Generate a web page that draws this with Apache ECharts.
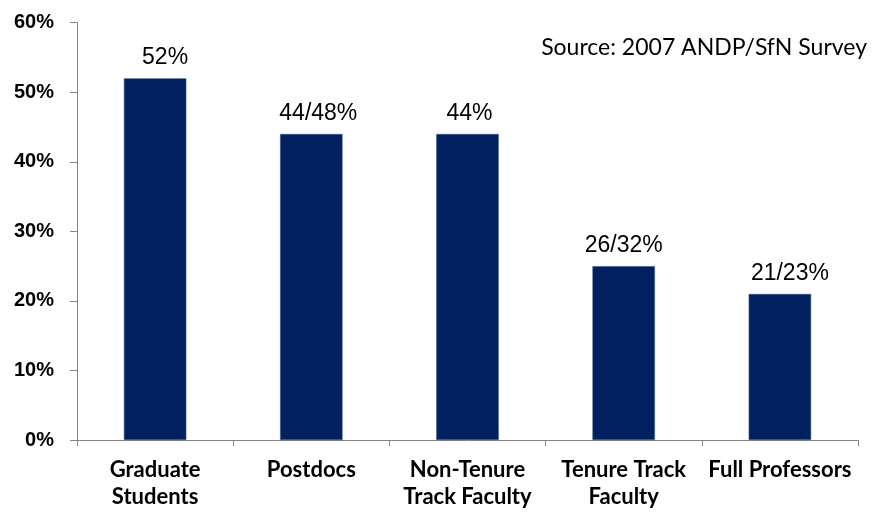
<!DOCTYPE html>
<html>
<head>
<meta charset="utf-8">
<script src="https://cdn.jsdelivr.net/npm/echarts@6/dist/echarts.min.js"></script>
<style>
html,body{margin:0;padding:0;background:#fff;}
#chart{width:882px;height:513px;}
</style>
</head>
<body>
<div id="chart"></div>
<script>
const categories = ['Graduate\nStudents', 'Postdocs', 'Non-Tenure\nTrack Faculty', 'Tenure Track\nFaculty', 'Full Professors'];
const values = [52, 44, 44, 25, 21];
const valueLabels = ['52%', '44/48%', '44%', '26/32%', '21/23%'];
const yTicks = [0, 10, 20, 30, 40, 50, 60];
const sourceText = 'Source: 2007 ANDP/SfN Survey';

// small horizontal nudges of the value labels, as placed in the original
const labelNudge = [10, 7, 2, 0, 10];

const chart = echarts.init(document.getElementById('chart'));
chart.setOption({
  animation: false,
  backgroundColor: '#ffffff',
  title: {
    text: sourceText,
    right: 10,
    top: 31,
    textStyle: { fontFamily: 'Lato', fontWeight: 'normal', fontSize: 23, color: '#000' }
  },
  grid: { left: 77, right: 24, top: 22.7, bottom: 73, containLabel: false },
  xAxis: {
    type: 'category',
    data: categories,
    axisLine: { lineStyle: { color: '#868686', width: 1 } },
    axisTick: { show: true, length: 6, lineStyle: { color: '#868686' } },
    axisLabel: {
      interval: 0,
      margin: 16,
      fontFamily: 'Lato',
      fontWeight: 'bold',
      fontSize: 22,
      lineHeight: 27,
      color: '#000'
    }
  },
  yAxis: {
    type: 'value',
    min: yTicks[0],
    max: yTicks[yTicks.length - 1],
    interval: 10,
    splitLine: { show: false },
    axisLine: { show: true, lineStyle: { color: '#868686', width: 1 } },
    axisTick: { show: true, length: 7, lineStyle: { color: '#868686' } },
    axisLabel: {
      margin: 23,
      fontFamily: 'Liberation Sans',
      fontWeight: 'bold',
      fontSize: 20,
      color: '#000',
      formatter: v => v + '%'
    }
  },
  series: [{
    type: 'bar',
    data: values.map((v, i) => ({ value: v, label: { offset: [labelNudge[i], 0] } })),
    barWidth: '40%',
    itemStyle: { color: '#002060', borderColor: '#3a5a8a', borderWidth: 0.6 },
    label: {
      show: true,
      position: 'top',
      distance: 9,
      fontFamily: 'Liberation Sans',
      fontSize: 23,
      color: '#000',
      formatter: p => valueLabels[p.dataIndex]
    }
  }]
});
</script>
</body>
</html>
